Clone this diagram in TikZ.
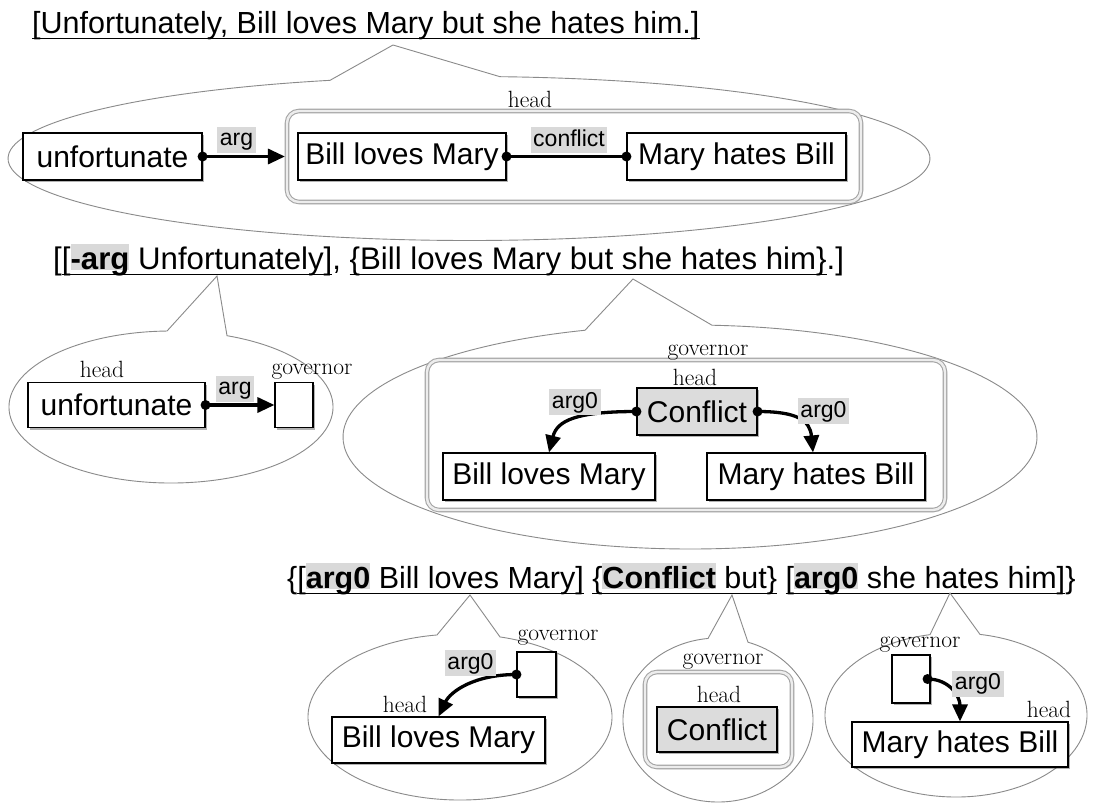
\documentclass[tikz,border=0pt]{standalone}
\usepackage{fontspec}
\setsansfont{Liberation Sans}
\usetikzlibrary{arrows.meta,shadows,calc}

\definecolor{hlgray}{HTML}{D9D9D9}
\definecolor{conflictfill}{HTML}{DCDCDC}
\definecolor{bubbleline}{HTML}{8A8A8A}

% underlined run of text with a fixed-depth rule
\newsavebox\ulbox
\newsavebox\hlbox
\newcommand\ulseg[1]{\sbox\ulbox{#1}\rlap{\rule[-6pt]{\wd\ulbox}{1.2pt}}\usebox\ulbox}
% bold word on a grey marker band
\newcommand\hlt[1]{\sbox\hlbox{\bfseries #1}\rlap{\color{hlgray}\rule[-1pt]{\wd\hlbox}{26pt}}\usebox\hlbox}

% speech bubble: centre (#1,#2), radii #3,#4, tail feet at x=#5,#6, tail tip (#7,#8)
\newcommand\speechbubble[8]{%
  \pgfmathsetmacro\bubL{acos((#5-#1)/#3)}%
  \pgfmathsetmacro\bubR{acos((#6-#1)/#3)}%
  \draw[bubble] (#1,#2) ++(\bubR:#3pt and #4pt)
    arc[start angle=\bubR, end angle=\bubL-360, x radius=#3pt, y radius=#4pt]
    -- (#7,#8) -- cycle;}

\tikzset{
  bubble/.style={draw=bubbleline, line width=0.9pt, fill=white},
  box/.style={draw=black, line width=1.1pt, fill=white, inner sep=0pt,
    font=\sffamily\fontsize{30}{34}\selectfont,
    drop shadow={shadow xshift=2pt, shadow yshift=-2pt, opacity=0.3, fill=black}},
  greybox/.style={box, fill=conflictfill},
  group/.style={draw=black!35, line width=1.1pt, double=black!7, double distance=2.4pt,
    rounded corners=12pt, inner sep=0pt, fill=white,
    drop shadow={shadow xshift=2pt, shadow yshift=-2pt, opacity=0.2, fill=black}},
  edgelab/.style={fill=hlgray, inner xsep=2.5pt, inner ysep=2pt, text height=17pt, text depth=5pt,
    font=\sffamily\fontsize{23}{26}\selectfont},
  role/.style={inner sep=0pt, text=black, font=\fontsize{23.5}{27}\selectfont, anchor=base},
  title/.style={inner sep=0pt, anchor=base west, font=\sffamily\fontsize{30.5}{34}\selectfont},
  link/.style={line width=3.3pt, -{Triangle[length=17pt,width=15pt]}},
  plainlink/.style={line width=3.3pt},
  dot/.style={radius=5pt},
}

\begin{document}
\begin{tikzpicture}[x=1pt, y=-1pt]
\fill[white] (0,0) rectangle (1095,803);
\useasboundingbox (0,0) rectangle (1095,803);

% ---------- whole sentence ----------
\node[title] (t1) at (32,33) {\ulseg{[Unfortunately, Bill loves Mary but she hates him.]}};
\speechbubble{469}{158.5}{461}{82}{330}{500}{393}{45}

\node[group, minimum width=574pt, minimum height=91pt] (g1) at (574,156.5) {};
\node[role] (h1) at (530,107) {head};
\node[box, minimum width=179pt, minimum height=47pt] (u1) at (112.5,156.5) {unfortunate};
\node[box, minimum width=208pt, minimum height=47pt] (b1) at (402,156.5) {Bill loves Mary};
\node[box, minimum width=219pt, minimum height=47pt] (m1) at (736.5,156.5) {Mary hates Bill};

\draw[link, shorten >=1.5pt] (u1.east) -- (g1.west);
\fill[dot] (u1.east) circle;
\node[edgelab] (l1) at (236.5,139.5) {arg};
\draw[plainlink] (b1.east) -- (m1.west);
\fill[dot] (b1.east) circle;
\fill[dot] (m1.west) circle;
\node[edgelab] (l2) at (569,140) {conflict};

% ---------- first split ----------
\node[title, font=\sffamily\fontsize{31.2}{35}\selectfont] (t2) at (53,269) {[\ulseg{[\hlt{-arg} Unfortunately]}, \ulseg{\{Bill loves Mary but she hates him\}}.]};
\speechbubble{171}{407}{162}{76}{167}{227}{217}{276}
\speechbubble{690}{437}{347}{112}{585}{712}{633}{279}

% left bubble
\node[role] (h2a) at (102,377) {head};
\node[role] (gov2a) at (312,374) {governor};
\node[box, minimum width=177pt, minimum height=45pt] (u2) at (116.5,405) {unfortunate};
\node[box, minimum width=38pt, minimum height=45pt] (gv2) at (294,405) {};
\draw[link] (u2.east) -- (gv2.west);
\fill[dot] (u2.east) circle;
\node[edgelab] (l3) at (235,388.5) {arg};

% right bubble
\node[group, minimum width=518pt, minimum height=150pt] (g2) at (686,435) {};
\node[role] (gov2b) at (708,355) {governor};
\node[role] (h2b) at (695,385) {head};
\node[greybox, minimum width=120pt, minimum height=47pt] (c2) at (697,411.5) {Conflict};
\node[box, minimum width=212pt, minimum height=47pt] (b2) at (549,476.5) {Bill loves Mary};
\node[box, minimum width=218pt, minimum height=47pt] (m2) at (816,476.5) {Mary hates Bill};
\draw[link] (c2.west) .. controls +(-60,0) and +(8,-32) .. (b2.north);
\draw[link] (c2.east) .. controls +(40,0) and +(-3,-32) .. ([xshift=-3pt]m2.north);
\fill[dot] (c2.west) circle;
\fill[dot] (c2.east) circle;
\node[edgelab] (l4) at (575,402) {arg0};
\node[edgelab] (l5) at (823.5,411) {arg0};

% ---------- second split ----------
\node[title] (t3) at (287,588) {\{\ulseg{[\hlt{arg0} Bill loves Mary]} \ulseg{\{\hlt{Conflict} but\}} \ulseg{[\hlt{arg0} she hates him]}\}};
\speechbubble{460}{717}{152}{83}{437}{500}{470}{595}
\speechbubble{718}{720}{95}{82}{708}{748}{732}{595}
\speechbubble{956}{715}{131}{82}{930}{980}{950}{593}

% left bubble
\node[role] (gov3a) at (558,640) {governor};
\node[box, minimum width=39pt, minimum height=45pt] (gv3a) at (536.5,674.5) {};
\node[role] (h3a) at (405,712) {head};
\node[box, minimum width=213pt, minimum height=46pt] (b3) at (438.5,740) {Bill loves Mary};
\draw[link] (gv3a.west) .. controls +(-42,0) and +(12,-25) .. (b3.north);
\fill[dot] (gv3a.west) circle;
\node[edgelab] (l6) at (470.5,663) {arg0};

% middle bubble
\node[role] (gov3b) at (723,664) {governor};
\node[group, minimum width=147pt, minimum height=95pt] (g3) at (718.5,719.5) {};
\node[role] (h3b) at (719,702) {head};
\node[greybox, minimum width=120pt, minimum height=45pt] (c3) at (717,729.5) {Conflict};

% right bubble
\node[role] (gov3c) at (920,647) {governor};
\node[box, minimum width=38pt, minimum height=48pt] (gv3c) at (911,679) {};
\node[role] (h3c) at (1049,717) {head};
\node[box, minimum width=216pt, minimum height=45pt] (m3) at (960,744.5) {Mary hates Bill};
\draw[link] ([xshift=-3pt]gv3c.east) .. controls +(22,0) and +(0,-25) .. (m3.north);
\fill[dot] ([xshift=-3pt]gv3c.east) circle;
\node[edgelab] (l7) at (978,683.5) {arg0};

\end{tikzpicture}
\end{document}
